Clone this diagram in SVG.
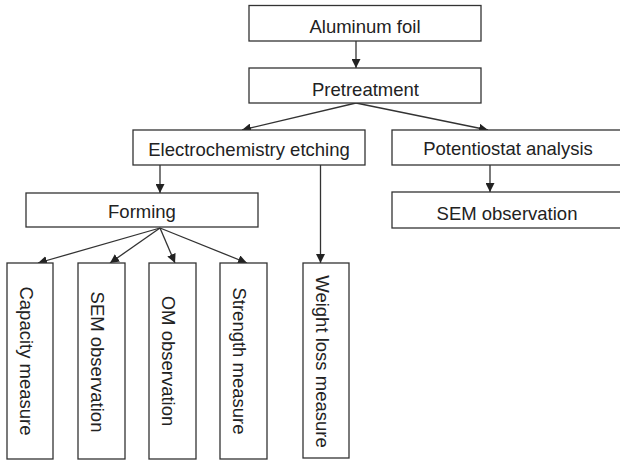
<svg xmlns="http://www.w3.org/2000/svg" width="620" height="461" viewBox="0 0 620 461">
<defs>
<marker id="ah" viewBox="0 0 10 10" refX="10" refY="5" markerWidth="9" markerHeight="9" markerUnits="userSpaceOnUse" orient="auto">
<path d="M0,0 L10,5 L0,10 z" fill="#222"/>
</marker>
<style>
.box{fill:#fff;stroke:#333;stroke-width:1.3}
.t{font-family:"Liberation Sans",Arial,sans-serif;font-size:18.5px;fill:#222;text-anchor:middle}
.c{stroke:#333;stroke-width:1.3;fill:none;marker-end:url(#ah)}
</style>
</defs>
<rect width="620" height="461" fill="#fff"/>
<g id="connectors">
<line class="c" x1="356" y1="41" x2="356" y2="68"/>
<line class="c" x1="356" y1="103" x2="242" y2="130"/>
<line class="c" x1="356" y1="103" x2="488" y2="130"/>
<line class="c" x1="160" y1="165" x2="160" y2="193"/>
<line class="c" x1="320.5" y1="165" x2="320.5" y2="263"/>
<line class="c" x1="490" y1="165" x2="490" y2="192"/>
<line class="c" x1="160" y1="228" x2="38" y2="263"/>
<line class="c" x1="160" y1="228" x2="110" y2="263"/>
<line class="c" x1="160" y1="228" x2="175" y2="263"/>
<line class="c" x1="160" y1="228" x2="247" y2="263"/>
</g>
<g id="aluminum">
<rect class="box" x="249" y="5.5" width="232" height="35.5"/>
<text class="t" x="365" y="33">Aluminum foil</text>
</g>
<g id="pretreatment">
<rect class="box" x="249" y="68" width="232" height="35"/>
<text class="t" x="365.5" y="96">Pretreatment</text>
</g>
<g id="etching">
<rect class="box" x="133" y="130" width="232" height="35"/>
<text class="t" x="249" y="155.5">Electrochemistry etching</text>
</g>
<g id="potentiostat">
<rect class="box" x="392" y="130" width="234" height="35"/>
<text class="t" x="508" y="155">Potentiostat analysis</text>
</g>
<g id="sem-right">
<rect class="box" x="392" y="192" width="234" height="36"/>
<text class="t" x="507" y="220">SEM observation</text>
</g>
<g id="forming">
<rect class="box" x="26" y="193" width="232" height="34"/>
<text class="t" x="142" y="217.5">Forming</text>
</g>
<g id="capacity">
<rect class="box" x="7" y="263" width="46" height="196"/>
<text class="t" transform="translate(20,361) rotate(90)">Capacity measure</text>
</g>
<g id="sem-left">
<rect class="box" x="78" y="263" width="47" height="196"/>
<text class="t" transform="translate(91,362) rotate(90)">SEM observation</text>
</g>
<g id="om">
<rect class="box" x="149" y="263" width="47" height="196"/>
<text class="t" transform="translate(162,361) rotate(90)">OM observation</text>
</g>
<g id="strength">
<rect class="box" x="220" y="263" width="47" height="196"/>
<text class="t" transform="translate(233,361) rotate(90)">Strength measure</text>
</g>
<g id="weight">
<rect class="box" x="303" y="263" width="46" height="195"/>
<text class="t" transform="translate(316,361.5) rotate(90)">Weight loss measure</text>
</g>
</svg>
